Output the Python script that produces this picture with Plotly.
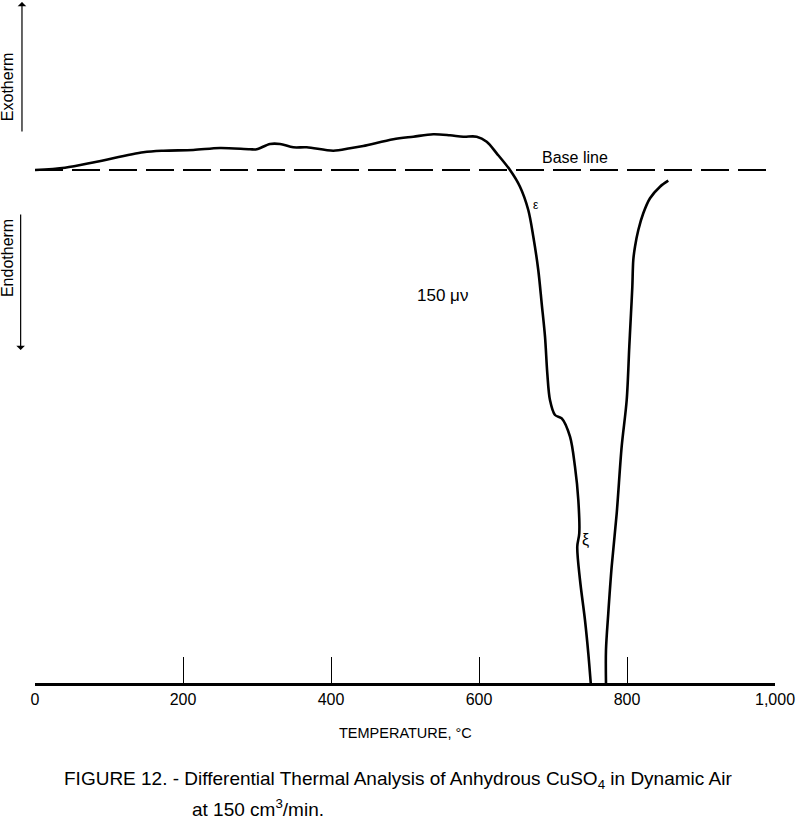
import plotly.graph_objects as go

# DTA curve (temperature °C, deflection in arbitrary units; baseline = 0)
temp_left = [0, 40.5, 83.4, 146.4, 173.4, 213.9, 250, 290.5, 299.6, 317.6, 331.1, 349, 367.2,
             403.1, 425.7, 443.6, 484.2, 511.2, 538.2, 560.8, 578.8, 596.9, 610.4, 623.9,
             641.9, 655.4, 666.6, 673.4, 680.1, 684.7, 689.2, 692.3, 695.9, 702.7, 711.8,
             723, 729.7, 734.2, 735.5, 732.8, 736.5, 743.2, 747.7, 751]
dta_left = [0, 2.3, 8.3, 17.7, 19.3, 20, 22, 20.7, 20.7, 26, 26, 22.7, 22.7,
            19.3, 21.7, 24, 30.7, 33.3, 35.7, 34.7, 33.3, 33.3, 28.3, 16.7,
            0, -16.7, -40, -66.7, -100, -133.3, -166.7, -203.3, -230, -245, -248.3,
            -266.7, -296.7, -330, -363.3, -376.7, -410, -450, -483.3, -513]
temp_right = [771.6, 771.6, 774.7, 779.3, 786.1, 792.8, 799.6, 803.1, 805.4, 807.2, 808.5,
              810.8, 815.3, 822, 831.1, 844.6, 855.8]
dta_right = [-513, -480, -443.3, -396.7, -343.3, -276.7, -230, -176.7, -143.3, -116.7, -90,
             -76.7, -60, -43.3, -28.3, -16.7, -10.7]

baseline_x = [0, 1000]
baseline_y = [0, 0]

tick_vals = [0, 200, 400, 600, 800, 1000]
tick_text = ["0", "200", "400", "600", "800", "1,000"]
mark_vals = [200, 400, 600, 800]

FONT = "Liberation Sans, Arial, sans-serif"

fig = go.Figure()
fig.add_trace(go.Scatter(x=baseline_x, y=baseline_y, mode="lines",
                         line=dict(color="black", width=2, dash="28px,9px"),
                         hoverinfo="skip", showlegend=False))
fig.add_trace(go.Scatter(x=temp_left + [None] + temp_right,
                         y=dta_left + [None] + dta_right, mode="lines",
                         line=dict(color="black", width=2.6, shape="spline", smoothing=0.9),
                         connectgaps=False, showlegend=False))
# invisible trace for the tick-mark axis
fig.add_trace(go.Scatter(x=mark_vals, y=[None] * len(mark_vals), xaxis="x2", yaxis="y",
                         mode="markers", showlegend=False, hoverinfo="skip"))

fig.update_layout(
    width=800, height=821,
    margin=dict(l=35, r=25, t=2, b=138),
    paper_bgcolor="white", plot_bgcolor="white",
    font=dict(family=FONT, color="black"),
    xaxis=dict(range=[0, 1000], tickvals=tick_vals, ticktext=tick_text,
               showgrid=False, zeroline=False, showline=True, linecolor="black",
               linewidth=2.5, ticks="", tickfont=dict(size=16, family=FONT)),
    xaxis2=dict(range=[0, 1000], overlaying="x", anchor="y", side="bottom",
                tickvals=mark_vals, ticks="inside", ticklen=26, tickwidth=1.3,
                tickcolor="black", showticklabels=False, showgrid=False,
                zeroline=False, showline=False),
    yaxis=dict(range=[-513, 168], visible=False),
)

ann = [
    dict(x=730, y=13, xref="x", yref="y", text="Base line", showarrow=False,
         font=dict(size=16)),
    dict(x=551, y=-125, xref="x", yref="y", text="150 \u03bc\u03bd", showarrow=False,
         font=dict(size=17)),
    dict(x=677, y=-35, xref="x", yref="y", text="\u03b5", showarrow=False,
         font=dict(size=12)),
    dict(x=744, y=-370, xref="x", yref="y", text="\u03be", showarrow=False,
         font=dict(size=16)),
    dict(x=0.5, y=-0.0734, xref="paper", yref="paper", xanchor="center", yanchor="middle",
         text="TEMPERATURE, \u00b0C", showarrow=False, font=dict(size=14.5)),
    dict(x=0.0365, y=-0.1424, xref="paper", yref="paper", xanchor="left", yanchor="middle",
         text="FIGURE 12. - Differential Thermal Analysis of Anhydrous CuSO<sub>4</sub> in Dynamic Air",
         showarrow=False, font=dict(size=19)),
    dict(x=0.2095, y=-0.1836, xref="paper", yref="paper", xanchor="left", yanchor="middle",
         text="at 150 cm<sup>3</sup>/min.", showarrow=False, font=dict(size=19)),
    dict(x=-0.0378, y=0.875, xref="paper", yref="paper", xanchor="center", yanchor="middle",
         text="Exotherm", textangle=-90, showarrow=False, font=dict(size=16)),
    dict(x=-0.0378, y=0.624, xref="paper", yref="paper", xanchor="center", yanchor="middle",
         text="Endotherm", textangle=-90, showarrow=False, font=dict(size=16)),
    dict(x=-0.0176, y=1.0, xref="paper", yref="paper", text="", showarrow=True,
         ax=0, ay=131, arrowhead=1, arrowsize=1.2, arrowwidth=1.2, arrowcolor="black"),
    dict(x=-0.0194, y=0.4890, xref="paper", yref="paper", text="", showarrow=True,
         ax=0, ay=-137, arrowhead=1, arrowsize=1.2, arrowwidth=1.2, arrowcolor="black"),
]
fig.update_layout(annotations=ann)

fig.write_html("out.html")
